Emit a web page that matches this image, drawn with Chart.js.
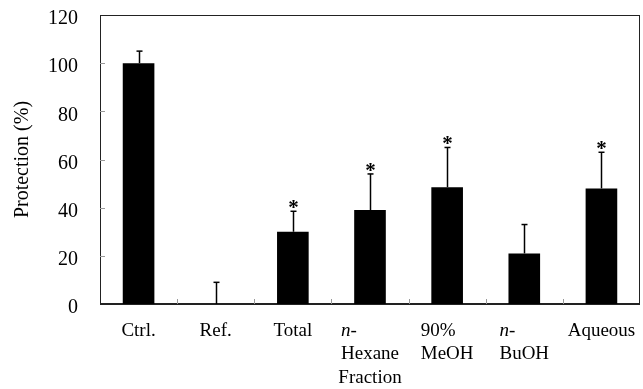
<!DOCTYPE html>
<html>
<head>
<meta charset="utf-8">
<script src="https://cdn.jsdelivr.net/npm/chart.js@4.4.1/dist/chart.umd.min.js"></script>
<style>
  html, body { margin: 0; padding: 0; background: #fff; }
  #wrap { width: 643px; height: 389px; }
</style>
</head>
<body>
<div id="wrap"><canvas id="myChart"></canvas></div>
<script>
// Fractions and protection (%)
const fractions = [['Ctrl.'], ['Ref.'], ['Total'], ['n-', 'Hexane'], ['90%', 'MeOH'], ['n-', 'BuOH'], ['Aqueous']];
const protection = [100, 0, 30, 39, 48.5, 21, 48];
const errors = [5, 9, 8.5, 15, 16.5, 12, 15];
const significant = [false, false, true, true, true, false, true];
const yTicks = [0, 20, 40, 60, 80, 100, 120];

const SERIF = "'Liberation Serif', 'Times New Roman', serif";

// box around the plot plus the small inward ticks
const frame = {
    id: 'frame',
    beforeDatasetsDraw(chart) {
        const { ctx, chartArea: a, scales } = chart;
        ctx.save();
        ctx.strokeStyle = '#222';
        ctx.lineWidth = 1;
        ctx.strokeRect(a.left + 0.5, a.top + 0.5, a.right - a.left - 1, a.bottom - a.top);
        ctx.lineWidth = 2;
        ctx.beginPath();
        ctx.moveTo(a.left, a.bottom);
        ctx.lineTo(a.right, a.bottom);
        ctx.stroke();

        ctx.strokeStyle = '#999';
        ctx.lineWidth = 1;
        ctx.beginPath();
        for (let i = 1; i < fractions.length; i++) {
            const x = Math.round((scales.x.getPixelForValue(i - 1) + scales.x.getPixelForValue(i)) / 2) + 0.5;
            ctx.moveTo(x, a.bottom);
            ctx.lineTo(x, a.bottom - 5);
        }
        yTicks.slice(1, -1).forEach(v => {
            const y = Math.round(scales.y.getPixelForValue(v)) + 0.5;
            ctx.moveTo(a.left, y);
            ctx.lineTo(a.left + 5, y);
        });
        ctx.stroke();
        ctx.restore();
    }
};

// upper error bars and significance stars
const errorBars = {
    id: 'errorBars',
    afterDatasetsDraw(chart) {
        const { ctx, scales } = chart;
        const meta = chart.getDatasetMeta(0);
        ctx.save();
        ctx.strokeStyle = '#000';
        ctx.fillStyle = '#000';
        meta.data.forEach((bar, i) => {
            const x = Math.round(bar.x) + 0.5;
            const yBase = scales.y.getPixelForValue(protection[i]);
            const yTop = scales.y.getPixelForValue(protection[i] + errors[i]);
            ctx.lineWidth = 1.5;
            ctx.beginPath();
            ctx.moveTo(x, yBase);
            ctx.lineTo(x, yTop);
            ctx.stroke();
            ctx.beginPath();
            ctx.moveTo(x - 3, yTop);
            ctx.lineTo(x + 3, yTop);
            ctx.stroke();
            if (significant[i]) {
                ctx.font = 'bold 21px ' + SERIF;
                ctx.textAlign = 'center';
                ctx.textBaseline = 'alphabetic';
                ctx.fillText('*', x, yTop + 3);
            }
        });
        ctx.restore();
    }
};

// category labels, "n-" in italics, two-line labels left-aligned
const categoryLabels = {
    id: 'categoryLabels',
    afterDraw(chart) {
        const { ctx, scales } = chart;
        ctx.save();
        ctx.fillStyle = '#000';
        ctx.textBaseline = 'middle';
        ctx.textAlign = 'left';
        fractions.forEach((lines, i) => {
            const cx = scales.x.getPixelForValue(i);
            const fontFor = s => (s === 'n-' ? 'italic ' : '') + '19px ' + SERIF;
            let w = 0;
            lines.forEach(s => { ctx.font = fontFor(s); w = Math.max(w, ctx.measureText(s).width); });
            lines.forEach((s, j) => {
                ctx.font = fontFor(s);
                const sw = ctx.measureText(s).width;
                const x = lines.length > 1 ? cx - w / 2 : cx - sw / 2;
                ctx.fillText(s, x, 331 + j * 23);
            });
        });
        ctx.restore();
    }
};

new Chart(document.getElementById('myChart'), {
    type: 'bar',
    data: {
        labels: fractions.map(f => f.join('')),
        datasets: [{
            data: protection,
            backgroundColor: '#000',
            borderWidth: 0,
            barPercentage: 0.41,
            categoryPercentage: 1
        }]
    },
    options: {
        responsive: true,
        maintainAspectRatio: false,
        animation: false,
        layout: { padding: { top: 15, right: 3, left: 0, bottom: 0 } },
        plugins: { legend: { display: false }, tooltip: { enabled: false } },
        scales: {
            x: {
                grid: { display: false, drawTicks: false },
                border: { display: false },
                ticks: { display: false },
                title: {
                    display: true,
                    text: 'Fraction',
                    color: '#000',
                    font: { family: SERIF, size: 19 },
                    padding: { top: 0, bottom: 0 }
                },
                afterFit(scale) { scale.height = 85; scale.paddingLeft = 0; scale.paddingRight = 0; }
            },
            y: {
                min: 0,
                max: 120,
                grid: { display: false, drawTicks: false },
                border: { display: false },
                afterBuildTicks(scale) { scale.ticks = yTicks.map(v => ({ value: v })); },
                ticks: {
                    color: '#000',
                    font: { family: SERIF, size: 20 },
                    padding: 22,
                    labelOffset: 4
                },
                title: {
                    display: true,
                    text: 'Protection (%)',
                    color: '#000',
                    font: { family: SERIF, size: 20 },
                    padding: { top: 11, bottom: 0 }
                },
                afterFit(scale) { scale.width = 100; scale.paddingTop = 0; scale.paddingBottom = 0; }
            }
        }
    },
    plugins: [frame, errorBars, categoryLabels]
});
</script>
</body>
</html>
